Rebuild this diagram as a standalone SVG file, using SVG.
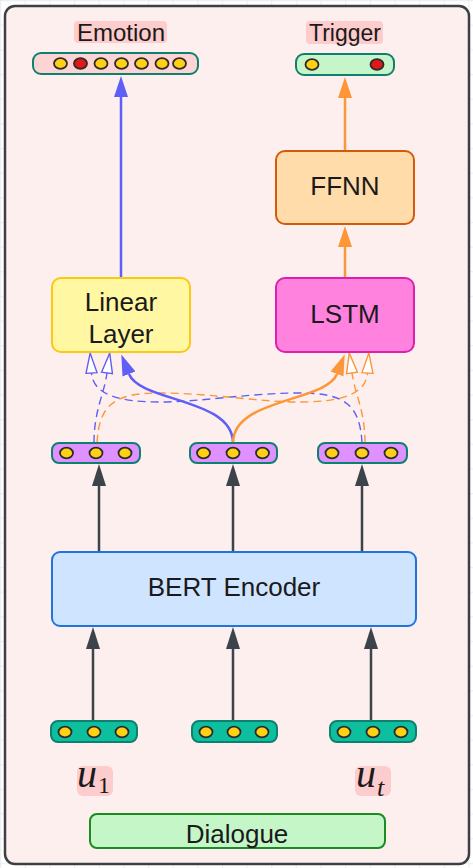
<svg xmlns="http://www.w3.org/2000/svg" width="473" height="868" viewBox="0 0 473 868">
<style>
.frame{fill:#fdefee;stroke:#3c4046;stroke-width:2.5}
.box{stroke-width:2}
.lbl{font-family:"Liberation Sans",Arial,sans-serif;fill:#1a1a1a;text-anchor:middle}
.big{font-size:26px}
.hl{fill:#fdcccc}
.bar{stroke:#0e8070;stroke-width:2}
.dot{fill:#ffd014;stroke:#2b2b2b;stroke-width:1.8}
.red{fill:#e01818}
.math{font-family:"Liberation Serif","Times New Roman",serif;fill:#1a1a1a}
.dk{stroke:#3d434b;stroke-width:2.5;fill:none}
.bl{stroke:#5f5ff7;stroke-width:2.5;fill:none}
.or{stroke:#fd9638;stroke-width:2.5;fill:none}
.bld{stroke:#5f5ff7;stroke-width:1.4;fill:none;stroke-dasharray:8 5}
.ord{stroke:#fd9638;stroke-width:1.4;fill:none;stroke-dasharray:8 5}
</style>
<defs>
<pattern id="grid" width="24.65" height="24.65" patternUnits="userSpaceOnUse">
<path d="M0.7,0 V24.65 M0,0.7 H24.65" stroke="#e6e6e6" stroke-width="0.8" fill="none"/>
</pattern>
<marker id="mDk" markerUnits="userSpaceOnUse" viewBox="0 -8 22 16" markerWidth="22" markerHeight="16" refX="0" refY="0" orient="auto"><path d="M0,-7 L22,0 L0,7 Z" fill="#3d434b"/></marker>
<marker id="mBl" markerUnits="userSpaceOnUse" viewBox="0 -8 22 16" markerWidth="22" markerHeight="16" refX="0" refY="0" orient="auto"><path d="M0,-7 L21,0 L0,7 Z" fill="#5f5ff7"/></marker>
<marker id="mOr" markerUnits="userSpaceOnUse" viewBox="0 -8 22 16" markerWidth="22" markerHeight="16" refX="0" refY="0" orient="auto"><path d="M0,-7 L21,0 L0,7 Z" fill="#fd9638"/></marker>
<marker id="mBlO" markerUnits="userSpaceOnUse" viewBox="-1 -7 23 14" markerWidth="23" markerHeight="14" refX="0" refY="0" orient="auto"><path d="M0,-5.5 L20,0 L0,5.5 Z" fill="#ffffff" stroke="#5f5ff7" stroke-width="1.4"/></marker>
<marker id="mOrO" markerUnits="userSpaceOnUse" viewBox="-1 -7 23 14" markerWidth="23" markerHeight="14" refX="0" refY="0" orient="auto"><path d="M0,-5.5 L20,0 L0,5.5 Z" fill="#ffffff" stroke="#fd9638" stroke-width="1.4"/></marker>
</defs>
<rect width="473" height="868" fill="#ffffff"/>
<rect width="473" height="868" fill="url(#grid)"/>
<rect class="frame" x="5" y="6" width="464" height="858" rx="10"/>

<g id="connectors">
<path class="dk" d="M99,552 V486" marker-end="url(#mDk)"/>
<path class="dk" d="M233,552 V486" marker-end="url(#mDk)"/>
<path class="dk" d="M362,552 V486" marker-end="url(#mDk)"/>
<path class="dk" d="M93,721 V649" marker-end="url(#mDk)"/>
<path class="dk" d="M233,721 V649" marker-end="url(#mDk)"/>
<path class="dk" d="M371,721 V649" marker-end="url(#mDk)"/>
<path class="bl" d="M121,278 V97" marker-end="url(#mBl)"/>
<path class="or" d="M345,151 V98" marker-end="url(#mOr)"/>
<path class="or" d="M345,278 V247" marker-end="url(#mOr)"/>
<path class="bld" d="M94,443 C94,410 104,395 107,373" marker-end="url(#mBlO)"/>
<path class="bld" d="M362,443 C360,405 345,393 300,393 C250,393 200,402 160,402 C120,402 93,395 91.5,373" marker-end="url(#mBlO)"/>
<path class="ord" d="M97,443 C99,405 114,393 159,393 C209,393 259,402 299,402 C339,402 366,395 367.5,373" marker-end="url(#mOrO)"/>
<path class="ord" d="M365,443 C365,410 355,395 352,373" marker-end="url(#mOrO)"/>
<path class="bl" d="M233,443 C233,398 140,402 129,374" marker-end="url(#mBl)"/>
<path class="or" d="M233,443 C233,398 326,402 337,374" marker-end="url(#mOr)"/>
</g>

<g id="emotion">
<rect class="hl" x="74" y="21" width="93" height="22" rx="4"/>
<text class="lbl" x="121" y="41" font-size="24">Emotion</text>
<rect class="bar" x="33" y="53" width="165" height="21" rx="8" fill="#fdd3d3"/>
<ellipse class="dot" cx="60.5" cy="63.5" rx="6.5" ry="5.3"/>
<ellipse class="dot red" cx="80.5" cy="63.5" rx="6.5" ry="5.3"/>
<ellipse class="dot" cx="101" cy="63.5" rx="6.5" ry="5.3"/>
<ellipse class="dot" cx="121.5" cy="63.5" rx="6.5" ry="5.3"/>
<ellipse class="dot" cx="141.5" cy="63.5" rx="6.5" ry="5.3"/>
<ellipse class="dot" cx="162" cy="63.5" rx="6.5" ry="5.3"/>
<ellipse class="dot" cx="179.5" cy="63.5" rx="6.5" ry="5.3"/>
</g>

<g id="trigger">
<rect class="hl" x="306" y="21" width="77" height="23" rx="4"/>
<text class="lbl" x="345" y="41" font-size="23">Trigger</text>
<rect class="bar" x="296" y="54" width="98" height="21" rx="8" fill="#c5f5c9"/>
<ellipse class="dot" cx="312" cy="64.5" rx="6.5" ry="5.3"/>
<ellipse class="dot red" cx="377" cy="64.5" rx="6.5" ry="5.3"/>
</g>

<g id="ffnn">
<rect class="box" x="276" y="151" width="138" height="73" rx="9" fill="#ffdca9" stroke="#d25a0a"/>
<text class="lbl big" x="345" y="195">FFNN</text>
</g>

<g id="linear-layer">
<rect class="box" x="52" y="278" width="138" height="74" rx="9" fill="#fff7a1" stroke="#fbc812"/>
<text class="lbl big" x="121" y="311">Linear</text>
<text class="lbl big" x="121" y="343">Layer</text>
</g>

<g id="lstm">
<rect class="box" x="276" y="278" width="138" height="74" rx="9" fill="#ff82de" stroke="#dd1fae"/>
<text class="lbl big" x="345" y="323">LSTM</text>
</g>

<g id="hidden-1">
<rect class="bar" x="52" y="443" width="88" height="20" rx="7" fill="#df91ff"/>
<ellipse class="dot" cx="66.5" cy="453" rx="6.5" ry="5.3"/>
<ellipse class="dot" cx="96" cy="453" rx="6.5" ry="5.3"/>
<ellipse class="dot" cx="125" cy="453" rx="6.5" ry="5.3"/>
</g>
<g id="hidden-2">
<rect class="bar" x="190" y="443" width="87" height="20" rx="7" fill="#df91ff"/>
<ellipse class="dot" cx="203.5" cy="453" rx="6.5" ry="5.3"/>
<ellipse class="dot" cx="233" cy="453" rx="6.5" ry="5.3"/>
<ellipse class="dot" cx="262.5" cy="453" rx="6.5" ry="5.3"/>
</g>
<g id="hidden-t">
<rect class="bar" x="318" y="443" width="89" height="20" rx="7" fill="#df91ff"/>
<ellipse class="dot" cx="332" cy="453" rx="6.5" ry="5.3"/>
<ellipse class="dot" cx="362" cy="453" rx="6.5" ry="5.3"/>
<ellipse class="dot" cx="391" cy="453" rx="6.5" ry="5.3"/>
</g>

<g id="bert-encoder">
<rect class="box" x="52" y="552" width="364" height="74" rx="8" fill="#cfe4ff" stroke="#1f74e0"/>
<text class="lbl big" x="234" y="596">BERT Encoder</text>
</g>

<g id="utt-1">
<rect class="bar" x="51" y="721" width="86" height="21" rx="7" fill="#0dbf9e"/>
<ellipse class="dot" cx="65" cy="732" rx="6.5" ry="5.3"/>
<ellipse class="dot" cx="94" cy="732" rx="6.5" ry="5.3"/>
<ellipse class="dot" cx="122" cy="732" rx="6.5" ry="5.3"/>
</g>
<g id="utt-2">
<rect class="bar" x="192" y="721" width="85" height="21" rx="7" fill="#0dbf9e"/>
<ellipse class="dot" cx="206" cy="732" rx="6.5" ry="5.3"/>
<ellipse class="dot" cx="234" cy="732" rx="6.5" ry="5.3"/>
<ellipse class="dot" cx="262" cy="732" rx="6.5" ry="5.3"/>
</g>
<g id="utt-t">
<rect class="bar" x="330" y="721" width="86" height="21" rx="7" fill="#0dbf9e"/>
<ellipse class="dot" cx="344" cy="732" rx="6.5" ry="5.3"/>
<ellipse class="dot" cx="373" cy="732" rx="6.5" ry="5.3"/>
<ellipse class="dot" cx="401" cy="732" rx="6.5" ry="5.3"/>
</g>

<g id="label-u1">
<rect class="hl" x="77" y="766" width="36" height="30" rx="6"/>
<text class="math" x="77" y="787" font-size="40" font-style="italic">u</text>
<text class="math" x="98" y="793" font-size="24">1</text>
</g>
<g id="label-ut">
<rect class="hl" x="355" y="766" width="36" height="30" rx="6"/>
<text class="math" x="356" y="787" font-size="40" font-style="italic">u</text>
<text class="math" x="377" y="796" font-size="26" font-style="italic">t</text>
</g>

<g id="dialogue">
<rect class="box" x="90" y="814" width="295" height="34" rx="7" fill="#c4f6c8" stroke="#1a8c22"/>
<text class="lbl big" x="237" y="843">Dialogue</text>
</g>
</svg>
